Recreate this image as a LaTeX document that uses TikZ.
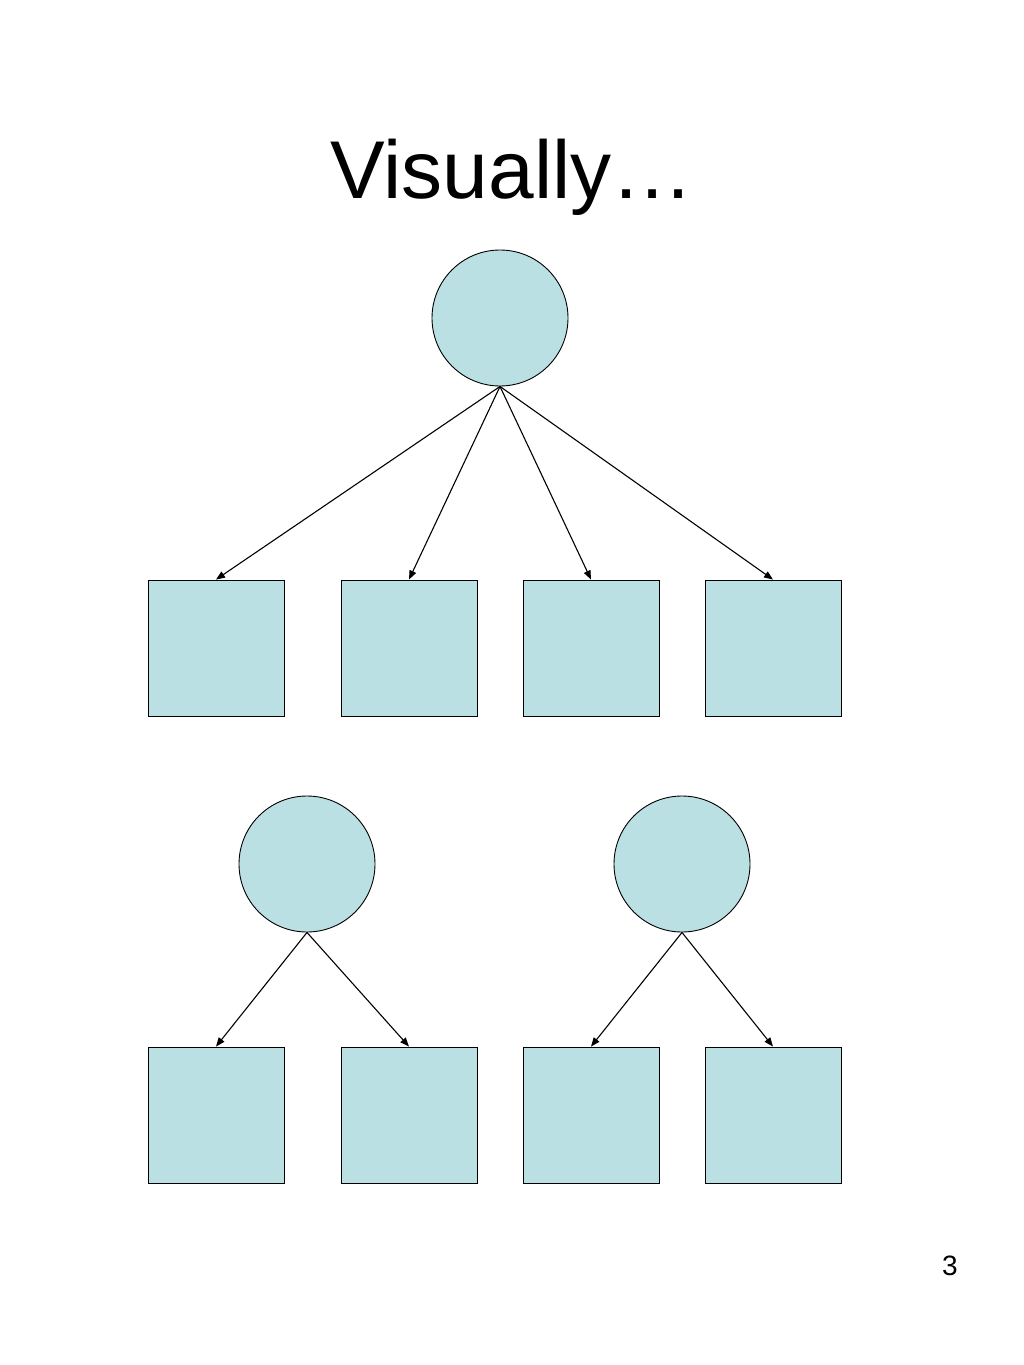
\documentclass[tikz,border=0pt]{standalone}
\usepackage{fontspec}
\setmainfont{Liberation Sans}
\usetikzlibrary{arrows.meta}
\definecolor{nodefill}{HTML}{BBE0E3}
\begin{document}
\begin{tikzpicture}[x=1pt,y=-1pt,
  circnode/.style={circle,draw=black,fill=nodefill,line width=0.9pt,minimum size=136pt,inner sep=0pt},
  sqnode/.style={rectangle,draw=black,fill=nodefill,line width=0.9pt,minimum size=136pt,inner sep=0pt},
  conn/.style={line width=1.1pt,-{Triangle[length=9pt,width=7pt]}}]
\useasboundingbox[fill=white] (0,0) rectangle (1024,1365);
\node[font=\fontsize{82}{98}\selectfont] (title) at (512,177) {Visually…};
\node[font=\fontsize{28}{34}\selectfont] (pg) at (950,1266) {3};
\node[circnode] (r) at (500,318) {};
\node[sqnode] (a1) at (216,648) {};
\node[sqnode] (a2) at (409,648) {};
\node[sqnode] (a3) at (591,648) {};
\node[sqnode] (a4) at (773,648) {};
\node[circnode] (c1) at (307,864) {};
\node[circnode] (c2) at (682,864) {};
\node[sqnode] (b1) at (216,1115) {};
\node[sqnode] (b2) at (409,1115) {};
\node[sqnode] (b3) at (591,1115) {};
\node[sqnode] (b4) at (773,1115) {};
\foreach \t in {a1,a2,a3,a4} \draw[conn] (r.south) -- (\t.north);
\draw[conn] (c1.south) -- (b1.north);
\draw[conn] (c1.south) -- (b2.north);
\draw[conn] (c2.south) -- (b3.north);
\draw[conn] (c2.south) -- (b4.north);
\end{tikzpicture}
\end{document}
